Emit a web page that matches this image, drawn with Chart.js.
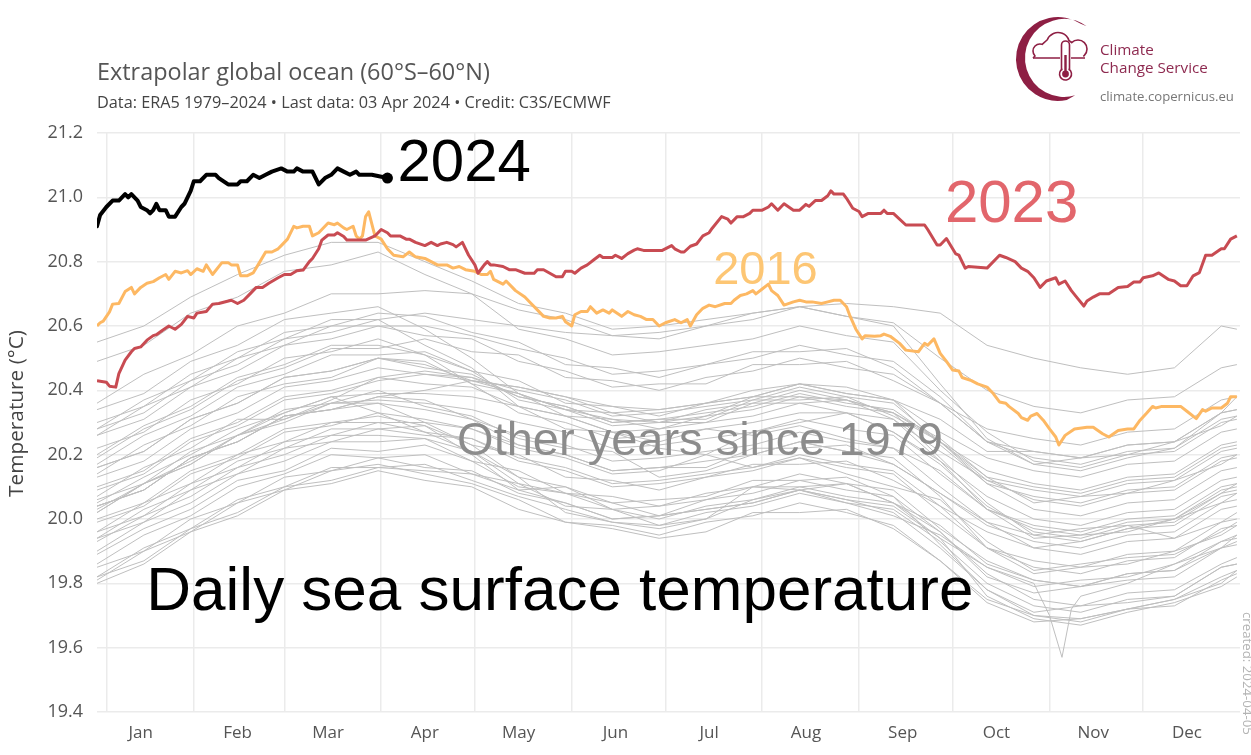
<!DOCTYPE html>
<html><head><meta charset="utf-8">
<script src="https://cdn.jsdelivr.net/npm/chart.js@4.4.1/dist/chart.umd.min.js"></script>
<style>html,body{margin:0;padding:0;background:#fff;overflow:hidden}canvas{display:block}</style>
</head><body>
<canvas id="c" width="1251" height="755" style="width:1251px;height:755px"></canvas>
<script>
// ---------- DATA ----------
const monthLabels = ['Jan','Feb','Mar','Apr','May','Jun','Jul','Aug','Sep','Oct','Nov','Dec'];
const monthMidDays = [15,46,75,106,136,167,197,228,259,289,320,350];
const monthStartDays = [4,32,61,92,122,153,183,214,245,275,306,336];
const yTicks = [19.4,19.6,19.8,20.0,20.2,20.4,20.6,20.8,21.0,21.2];

const days2024 = [1,2,4,6,8,10,11,12,14,15,17,18,19,20,21,23,24,26,28,29,31,32,34,36,39,40,43,46,47,49,51,53,55,57,60,62,64,65,67,70,72,74,76,78,80,82,84,85,89,94];
const temps2024 = [20.91,20.945,20.97,20.99,20.99,21.01,21.00,21.01,20.99,20.97,20.96,20.95,20.96,20.98,20.96,20.96,20.94,20.94,20.97,20.98,21.02,21.05,21.05,21.07,21.07,21.06,21.04,21.04,21.05,21.05,21.07,21.06,21.07,21.08,21.09,21.08,21.08,21.09,21.08,21.08,21.04,21.06,21.07,21.09,21.08,21.07,21.08,21.07,21.07,21.06];

const days2023 = [1,4,5,7,8,10,12,13,15,17,19,20,22,24,26,28,30,32,33,36,38,40,44,46,48,50,52,54,56,59,61,63,65,67,69,70,72,73,75,77,78,80,81,84,87,90,92,94,95,98,100,101,103,106,108,110,111,113,115,116,118,120,122,123,125,126,127,128,131,133,135,138,141,142,144,146,148,150,151,153,154,156,158,160,162,163,166,167,169,171,173,174,176,179,182,185,186,188,189,191,193,195,197,198,201,203,204,206,208,210,211,214,216,217,219,221,224,226,228,229,231,233,235,236,237,240,241,243,245,246,248,252,253,254,256,260,266,267,270,271,273,276,277,279,280,286,290,292,295,297,299,301,303,305,308,309,311,313,315,317,318,320,322,325,328,331,333,335,336,339,341,344,346,348,350,352,354,356,358,361,362,364,366];
const temps2023 = [20.43,20.425,20.413,20.41,20.452,20.494,20.52,20.53,20.535,20.556,20.57,20.573,20.587,20.60,20.59,20.605,20.63,20.625,20.64,20.645,20.668,20.67,20.68,20.67,20.68,20.70,20.72,20.72,20.733,20.75,20.76,20.76,20.772,20.774,20.80,20.81,20.84,20.867,20.883,20.883,20.89,20.878,20.867,20.867,20.867,20.88,20.90,20.89,20.88,20.88,20.87,20.87,20.86,20.85,20.86,20.85,20.855,20.86,20.853,20.846,20.86,20.82,20.79,20.764,20.79,20.80,20.79,20.79,20.785,20.775,20.775,20.764,20.764,20.775,20.775,20.764,20.753,20.753,20.77,20.77,20.764,20.78,20.79,20.805,20.82,20.813,20.813,20.82,20.81,20.825,20.836,20.84,20.835,20.835,20.835,20.85,20.84,20.83,20.83,20.848,20.855,20.88,20.89,20.904,20.94,20.932,20.92,20.94,20.94,20.95,20.96,20.96,20.97,20.98,20.96,20.98,20.96,20.96,20.978,20.972,20.99,20.99,21.005,21.02,21.01,21.01,20.997,20.966,20.956,20.94,20.95,20.95,20.96,20.95,20.95,20.914,20.914,20.90,20.852,20.852,20.872,20.824,20.82,20.78,20.785,20.78,20.82,20.813,20.80,20.78,20.77,20.75,20.72,20.74,20.75,20.73,20.74,20.71,20.686,20.662,20.678,20.69,20.70,20.70,20.72,20.723,20.737,20.737,20.75,20.756,20.765,20.745,20.74,20.725,20.725,20.756,20.766,20.82,20.82,20.84,20.84,20.87,20.88];

const days2016 = [1,2,3,5,6,8,10,12,13,15,17,19,21,23,24,26,28,30,31,33,35,36,38,41,43,44,46,47,49,51,53,55,57,59,60,62,64,65,67,69,70,72,73,75,77,78,80,81,83,84,85,86,87,88,90,92,94,96,99,101,103,106,108,110,113,115,117,119,122,124,126,127,128,131,132,134,135,138,140,142,144,146,148,150,151,153,154,156,158,159,161,163,165,166,169,171,173,175,177,179,181,183,186,188,190,191,193,195,197,199,202,204,205,207,209,211,212,214,216,217,219,221,224,226,228,230,233,235,237,239,241,242,244,246,247,250,252,253,255,258,260,264,266,267,269,271,273,275,277,278,281,283,286,288,290,292,293,296,297,299,300,302,304,306,308,309,311,314,318,320,323,325,328,331,333,335,337,339,340,342,345,348,350,353,355,356,358,361,363,364,366];
const temps2016 = [20.60,20.61,20.615,20.644,20.668,20.67,20.707,20.72,20.70,20.72,20.733,20.738,20.75,20.76,20.745,20.77,20.765,20.772,20.76,20.778,20.77,20.79,20.76,20.797,20.797,20.79,20.79,20.756,20.756,20.765,20.797,20.83,20.83,20.84,20.85,20.87,20.91,20.905,20.91,20.91,20.88,20.89,20.90,20.92,20.915,20.92,20.905,20.90,20.91,20.88,20.87,20.88,20.94,20.955,20.88,20.87,20.84,20.82,20.815,20.83,20.815,20.81,20.80,20.79,20.79,20.78,20.785,20.775,20.77,20.76,20.76,20.77,20.745,20.73,20.74,20.72,20.71,20.69,20.67,20.65,20.63,20.625,20.625,20.63,20.613,20.60,20.635,20.645,20.645,20.66,20.64,20.65,20.64,20.65,20.63,20.645,20.635,20.63,20.62,20.62,20.60,20.61,20.62,20.61,20.62,20.60,20.635,20.655,20.665,20.66,20.67,20.67,20.68,20.695,20.70,20.71,20.70,20.715,20.73,20.71,20.695,20.665,20.675,20.68,20.675,20.675,20.67,20.675,20.68,20.68,20.66,20.634,20.59,20.56,20.57,20.568,20.57,20.575,20.568,20.546,20.525,20.52,20.546,20.54,20.56,20.515,20.49,20.463,20.46,20.44,20.43,20.42,20.41,20.39,20.364,20.36,20.35,20.328,20.315,20.307,20.32,20.328,20.307,20.28,20.255,20.23,20.26,20.28,20.285,20.285,20.265,20.255,20.275,20.28,20.28,20.307,20.328,20.35,20.345,20.35,20.35,20.35,20.335,20.312,20.34,20.335,20.345,20.345,20.36,20.38,20.38];

const greyDays = [1,16,31,46,61,76,91,106,121,136,151,166,181,196,211,226,241,256,271,286,301,316,331,346,361,366];
const greyDays1982 = [1,16,31,46,61,76,91,106,121,136,151,166,181,196,211,226,241,256,271,286,301,306,310,313,316,331,346,361,366];

const y1979 = [19.89,19.97,20.03,20.12,20.15,20.22,20.21,20.23,20.18,20.10,20.08,20.05,20.01,20.06,20.10,20.09,20.11,20.05,19.98,19.86,19.81,19.79,19.83,19.84,19.91,19.93];
const y1980 = [19.93,20.01,20.07,20.16,20.20,20.26,20.26,20.25,20.21,20.13,20.10,20.05,20.06,20.07,20.12,20.12,20.13,20.07,19.96,19.83,19.75,19.73,19.77,19.78,19.86,19.88];
const y1981 = [19.86,19.95,20.01,20.10,20.14,20.20,20.19,20.20,20.14,20.09,20.05,20.00,20.01,20.03,20.05,20.09,20.06,20.02,19.91,19.78,19.71,19.73,19.74,19.76,19.85,19.86];
const y1982 = [19.82,19.91,19.97,20.06,20.10,20.16,20.16,20.17,20.12,20.07,20.03,19.99,19.98,20.02,20.04,20.08,20.05,20.01,19.95,19.85,19.80,19.70,19.57,19.72,19.76,19.80,19.86,19.93,19.95];
const y1983 = [20.04,20.09,20.19,20.24,20.32,20.34,20.36,20.30,20.23,20.13,20.02,19.99,19.97,20.00,20.10,20.10,20.11,20.05,19.94,19.76,19.69,19.67,19.71,19.74,19.79,19.82];
const y1984 = [19.81,19.90,19.96,20.05,20.09,20.15,20.17,20.14,20.11,20.06,19.99,19.98,19.95,19.99,20.01,20.05,20.02,19.98,19.87,19.74,19.68,19.69,19.72,19.75,19.82,19.84];
const y1985 = [19.80,19.86,19.96,20.01,20.09,20.11,20.15,20.12,20.10,20.03,19.99,19.97,19.94,19.96,20.02,20.02,20.03,19.97,19.87,19.75,19.70,19.68,19.72,19.75,19.80,19.84];
const y1986 = [19.85,19.90,20.00,20.05,20.13,20.15,20.19,20.16,20.15,20.08,20.05,20.00,20.01,20.03,20.05,20.09,20.06,20.04,19.94,19.85,19.79,19.81,19.82,19.86,19.91,19.95];
const y1987 = [19.99,20.04,20.14,20.19,20.27,20.29,20.33,20.31,20.28,20.23,20.20,20.15,20.16,20.18,20.20,20.24,20.21,20.17,20.08,19.99,19.95,19.97,19.98,19.94,19.99,20.02];
const y1988 = [20.02,20.11,20.17,20.26,20.33,20.38,20.33,20.27,20.21,20.11,20.08,20.03,20.04,20.06,20.08,20.12,20.09,20.07,19.92,19.78,19.70,19.69,19.72,19.73,19.81,19.83];
const y1989 = [19.82,19.87,19.97,20.02,20.10,20.12,20.16,20.15,20.14,20.11,20.04,20.03,20.00,20.04,20.06,20.10,20.07,20.05,19.96,19.82,19.77,19.79,19.81,19.82,19.91,19.92];
const y1990 = [19.96,20.01,20.11,20.16,20.24,20.26,20.30,20.27,20.25,20.18,20.15,20.10,20.11,20.13,20.15,20.19,20.16,20.14,20.02,19.91,19.85,19.83,19.87,19.88,19.97,19.98];
const y1991 = [19.96,20.05,20.11,20.20,20.24,20.30,20.30,20.30,20.28,20.22,20.19,20.14,20.15,20.20,20.16,20.19,20.14,20.10,20.06,19.93,19.84,19.86,19.88,19.89,19.96,19.99];
const y1992 = [20.00,20.05,20.15,20.20,20.28,20.30,20.32,20.29,20.20,20.09,20.10,20.03,19.98,20.00,20.06,20.09,20.05,20.03,19.93,19.80,19.73,19.71,19.75,19.76,19.85,19.86];
const y1993 = [19.90,19.99,20.05,20.14,20.18,20.24,20.24,20.25,20.18,20.15,20.08,20.07,20.04,20.08,20.10,20.14,20.11,20.09,19.97,19.87,19.81,19.79,19.83,19.84,19.93,19.94];
const y1994 = [19.94,19.99,20.09,20.14,20.22,20.24,20.28,20.26,20.25,20.19,20.16,20.11,20.12,20.14,20.16,20.20,20.17,20.15,20.04,19.96,19.91,19.89,19.93,19.94,20.03,20.04];
const y1995 = [20.06,20.11,20.21,20.26,20.34,20.36,20.40,20.35,20.32,20.25,20.22,20.21,20.13,20.15,20.20,20.24,20.21,20.19,20.07,19.91,19.83,19.85,19.86,19.90,19.95,19.98];
const y1996 = [19.94,20.03,20.09,20.18,20.22,20.28,20.28,20.29,20.23,20.20,20.13,20.12,20.09,20.13,20.17,20.17,20.18,20.12,20.04,19.91,19.87,19.85,19.89,19.90,19.99,20.00];
const y1997 = [20.04,20.09,20.19,20.24,20.32,20.34,20.38,20.40,20.43,20.41,20.38,20.35,20.34,20.36,20.40,20.42,20.41,20.37,20.31,20.21,20.21,20.19,20.23,20.24,20.33,20.34];
const y1998 = [20.34,20.39,20.49,20.54,20.62,20.64,20.66,20.59,20.50,20.39,20.34,20.33,20.30,20.34,20.36,20.40,20.37,20.33,20.19,20.05,19.95,19.93,19.97,19.98,20.07,20.08];
const y1999 = [20.02,20.11,20.17,20.26,20.30,20.36,20.36,20.34,20.31,20.23,20.20,20.15,20.16,20.16,20.22,20.22,20.23,20.17,20.08,19.98,19.93,19.91,19.95,19.96,20.05,20.06];
const y2000 = [20.04,20.09,20.19,20.24,20.32,20.34,20.38,20.37,20.31,20.26,20.23,20.18,20.19,20.21,20.23,20.27,20.24,20.22,20.10,19.99,19.91,19.93,19.97,20.00,20.08,20.11];
const y2001 = [20.10,20.15,20.25,20.30,20.38,20.40,20.44,20.42,20.41,20.35,20.32,20.27,20.28,20.30,20.32,20.36,20.33,20.31,20.18,20.07,20.00,19.98,20.02,20.03,20.12,20.13];
const y2002 = [20.14,20.23,20.29,20.38,20.42,20.44,20.50,20.49,20.42,20.39,20.32,20.31,20.28,20.32,20.34,20.38,20.35,20.33,20.24,20.12,20.09,20.07,20.11,20.12,20.21,20.22];
const y2003 = [20.22,20.27,20.37,20.42,20.50,20.52,20.56,20.51,20.46,20.37,20.34,20.29,20.30,20.30,20.36,20.36,20.37,20.31,20.21,20.12,20.06,20.04,20.08,20.09,20.18,20.19];
const y2004 = [20.16,20.21,20.31,20.36,20.44,20.46,20.50,20.47,20.45,20.38,20.35,20.30,20.31,20.33,20.35,20.39,20.36,20.34,20.24,20.11,20.07,20.05,20.09,20.10,20.19,20.20];
const y2005 = [20.17,20.26,20.32,20.41,20.45,20.51,20.51,20.52,20.46,20.43,20.36,20.35,20.32,20.36,20.38,20.42,20.39,20.37,20.23,20.11,20.03,20.01,20.05,20.06,20.15,20.16];
const y2006 = [20.13,20.18,20.28,20.33,20.41,20.43,20.47,20.45,20.44,20.38,20.35,20.30,20.31,20.31,20.37,20.37,20.38,20.32,20.24,20.15,20.11,20.09,20.13,20.14,20.23,20.24];
const y2007 = [20.20,20.29,20.35,20.44,20.48,20.54,20.54,20.51,20.42,20.33,20.30,20.25,20.26,20.28,20.26,20.29,20.25,20.22,20.15,20.03,19.94,19.95,19.96,20.00,20.05,20.08];
const y2008 = [20.03,20.11,20.18,20.26,20.31,20.36,20.37,20.36,20.34,20.30,20.27,20.22,20.23,20.25,20.27,20.31,20.28,20.26,20.14,20.03,19.97,19.95,19.99,20.00,20.09,20.10];
const y2009 = [20.09,20.14,20.24,20.29,20.37,20.39,20.43,20.45,20.43,20.41,20.38,20.33,20.34,20.36,20.38,20.42,20.39,20.37,20.27,20.19,20.15,20.13,20.17,20.18,20.27,20.28];
const y2010 = [20.28,20.33,20.43,20.48,20.56,20.58,20.62,20.54,20.47,20.35,20.32,20.27,20.22,20.20,20.27,20.30,20.33,20.27,20.17,20.04,19.96,19.94,19.98,19.99,20.08,20.09];
const y2011 = [20.05,20.13,20.20,20.28,20.33,20.38,20.39,20.39,20.38,20.35,20.28,20.27,20.24,20.28,20.30,20.33,20.33,20.27,20.18,20.03,19.98,19.96,20.00,20.01,20.10,20.11];
const y2012 = [20.07,20.16,20.22,20.31,20.31,20.37,20.44,20.46,20.44,20.40,20.37,20.32,20.33,20.35,20.37,20.41,20.38,20.36,20.24,20.13,20.05,20.07,20.08,20.12,20.17,20.20];
const y2013 = [20.16,20.21,20.31,20.36,20.44,20.46,20.50,20.48,20.43,20.39,20.34,20.31,20.30,20.32,20.38,20.38,20.37,20.33,20.25,20.13,20.10,20.08,20.12,20.13,20.22,20.23];
const y2014 = [20.19,20.28,20.34,20.43,20.47,20.53,20.53,20.56,20.52,20.51,20.44,20.43,20.40,20.44,20.46,20.50,20.47,20.45,20.36,20.24,20.21,20.19,20.23,20.24,20.33,20.34];
const y2015 = [20.28,20.37,20.43,20.52,20.56,20.62,20.62,20.64,20.62,20.60,20.58,20.57,20.56,20.60,20.64,20.66,20.67,20.66,20.64,20.54,20.50,20.47,20.45,20.47,20.60,20.59];
const y2017 = [20.49,20.54,20.64,20.69,20.77,20.79,20.83,20.76,20.70,20.59,20.56,20.51,20.52,20.54,20.56,20.60,20.57,20.55,20.40,20.27,20.18,20.16,20.20,20.21,20.30,20.31];
const y2018 = [20.26,20.31,20.41,20.46,20.54,20.56,20.60,20.57,20.56,20.49,20.46,20.41,20.42,20.42,20.48,20.48,20.49,20.43,20.36,20.28,20.25,20.23,20.27,20.28,20.37,20.38];
const y2019 = [20.36,20.45,20.51,20.60,20.64,20.70,20.70,20.71,20.70,20.65,20.62,20.57,20.58,20.60,20.62,20.66,20.63,20.61,20.50,20.40,20.35,20.33,20.37,20.38,20.47,20.48];
const y2020 = [20.55,20.60,20.69,20.76,20.82,20.86,20.86,20.80,20.74,20.67,20.64,20.59,20.60,20.62,20.64,20.66,20.63,20.60,20.42,20.25,20.17,20.19,20.20,20.24,20.29,20.32];
const y2021 = [20.26,20.35,20.41,20.50,20.54,20.60,20.60,20.60,20.57,20.53,20.50,20.45,20.46,20.48,20.50,20.54,20.51,20.49,20.38,20.24,20.19,20.17,20.21,20.22,20.31,20.32];
const y2022 = [20.30,20.35,20.45,20.50,20.58,20.60,20.64,20.63,20.58,20.55,20.48,20.47,20.44,20.48,20.52,20.52,20.53,20.47,20.36,20.24,20.17,20.15,20.19,20.22,20.33,20.38];

const greyYears = [
  ['1979',y1979,greyDays],['1980',y1980,greyDays],['1981',y1981,greyDays],['1982',y1982,greyDays1982],
  ['1983',y1983,greyDays],['1984',y1984,greyDays],['1985',y1985,greyDays],['1986',y1986,greyDays],
  ['1987',y1987,greyDays],['1988',y1988,greyDays],['1989',y1989,greyDays],['1990',y1990,greyDays],
  ['1991',y1991,greyDays],['1992',y1992,greyDays],['1993',y1993,greyDays],['1994',y1994,greyDays],
  ['1995',y1995,greyDays],['1996',y1996,greyDays],['1997',y1997,greyDays],['1998',y1998,greyDays],
  ['1999',y1999,greyDays],['2000',y2000,greyDays],['2001',y2001,greyDays],['2002',y2002,greyDays],
  ['2003',y2003,greyDays],['2004',y2004,greyDays],['2005',y2005,greyDays],['2006',y2006,greyDays],
  ['2007',y2007,greyDays],['2008',y2008,greyDays],['2009',y2009,greyDays],['2010',y2010,greyDays],
  ['2011',y2011,greyDays],['2012',y2012,greyDays],['2013',y2013,greyDays],['2014',y2014,greyDays],
  ['2015',y2015,greyDays],['2017',y2017,greyDays],['2018',y2018,greyDays],['2019',y2019,greyDays],
  ['2020',y2020,greyDays],['2021',y2021,greyDays],['2022',y2022,greyDays]
];

// ---------- STYLE / LAYOUT ----------
const UI = '"Open Sans", "DejaVu Sans", sans-serif';
const BIG = '"Liberation Sans", Arial, sans-serif';
const labelsOnChart = [
  {text:'2024', day:97.2, temp:21.050, size:60, color:'#000000'},
  {text:'2023', day:272.5, temp:20.923, size:60, color:'#e2666c'},
  {text:'2016', day:198.3, temp:20.731, size:47, color:'#fdc674'},
  {text:'Other years since 1979', day:116.3, temp:20.199, size:47, color:'#8c8c8c'},
  {text:'Daily sea surface temperature', day:16.8, temp:19.716, size:62, color:'#000000'}
];

function fitSize(ctx, text, family, targetW, base){
  ctx.font = base + 'px ' + family;
  const w = ctx.measureText(text).width;
  return base * targetW / w;
}

function drawLogo(ctx){
  const col = '#8e1f44';
  ctx.save();
  const cx = 1058, cy = 59, R = 42;
  ctx.beginPath();
  ctx.arc(cx, cy, R, -1.0, 1.36, true);
  ctx.arc(cx + 6, cy - 1, R - 3, 1.28, -0.95, false);
  ctx.closePath();
  ctx.fillStyle = col; ctx.fill();
  // cloud
  ctx.strokeStyle = col; ctx.lineWidth = 1.6; ctx.lineJoin = 'round';
  ctx.beginPath();
  ctx.moveTo(1033, 58);
  ctx.arc(1040, 51, 7, Math.PI*0.75, Math.PI*1.6, false);
  ctx.arc(1058, 44, 11.5, Math.PI*1.12, Math.PI*1.9, false);
  ctx.arc(1078, 49, 9, Math.PI*1.25, Math.PI*0.3, false);
  ctx.stroke();
  ctx.beginPath(); ctx.moveTo(1033, 58); ctx.lineTo(1060, 58); ctx.moveTo(1071, 58); ctx.lineTo(1085, 58); ctx.stroke();
  // thermometer
  ctx.fillStyle = '#fff';
  ctx.beginPath();
  ctx.moveTo(1061.5, 70); ctx.lineTo(1061.5, 45); ctx.arc(1065.5, 45, 4, Math.PI, 0, false); ctx.lineTo(1069.5, 70);
  ctx.arc(1065.5, 74, 6, -Math.PI*0.3, Math.PI*1.3, false);
  ctx.closePath(); ctx.fill(); ctx.stroke();
  ctx.fillStyle = col;
  ctx.fillRect(1064.3, 55, 2.4, 17);
  ctx.beginPath(); ctx.arc(1065.5, 74, 3.4, 0, Math.PI*2); ctx.fill();
  // texts
  const s1 = fitSize(ctx, 'Change Service', UI, 108, 15);
  ctx.font = s1 + 'px ' + UI; ctx.fillStyle = '#8e2a50'; ctx.textBaseline = 'alphabetic'; ctx.textAlign = 'left';
  ctx.fillText('Climate', 1100, 55);
  ctx.fillText('Change Service', 1100, 73);
  const s2 = fitSize(ctx, 'climate.copernicus.eu', UI, 134, 13);
  ctx.font = s2 + 'px ' + UI; ctx.fillStyle = '#777777';
  ctx.fillText('climate.copernicus.eu', 1100, 101);
  ctx.restore();
}

const bgPlugin = {
  id: 'bg',
  beforeDraw(chart){ const c = chart.ctx; c.save(); c.fillStyle = '#fff'; c.fillRect(0, 0, chart.width, chart.height); c.restore(); }
};

const overlayPlugin = {
  id: 'overlay',
  afterDatasetsDraw(chart){
    const ctx = chart.ctx, xs = chart.scales.x, ys = chart.scales.y;
    ctx.save();
    ctx.textAlign = 'left'; ctx.textBaseline = 'alphabetic';
    labelsOnChart.forEach(l => {
      ctx.font = l.size + 'px ' + BIG;
      ctx.fillStyle = l.color;
      ctx.fillText(l.text, xs.getPixelForValue(l.day), ys.getPixelForValue(l.temp));
    });
    ctx.restore();
  },
  afterDraw(chart){
    const ctx = chart.ctx;
    ctx.save();
    ctx.textAlign = 'left'; ctx.textBaseline = 'alphabetic';
    const title = 'Extrapolar global ocean (60°S–60°N)';
    const ts = fitSize(ctx, title, UI, 393, 20);
    ctx.font = ts + 'px ' + UI; ctx.fillStyle = '#555555';
    ctx.fillText(title, 97, 80);
    const sub = 'Data: ERA5 1979–2024 • Last data: 03 Apr 2024 • Credit: C3S/ECMWF';
    const ss = fitSize(ctx, sub, UI, 514, 14);
    ctx.font = ss + 'px ' + UI; ctx.fillStyle = '#444444';
    ctx.fillText(sub, 97, 108);
    const yt = 'Temperature (°C)';
    const ys2 = fitSize(ctx, yt, UI, 167, 16);
    ctx.save();
    ctx.translate(23, 413.5); ctx.rotate(-Math.PI / 2);
    ctx.font = ys2 + 'px ' + UI; ctx.fillStyle = '#444444'; ctx.textAlign = 'center';
    ctx.fillText(yt, 0, 0);
    ctx.restore();
    ctx.save();
    ctx.translate(1243, 612); ctx.rotate(Math.PI / 2);
    const cs = fitSize(ctx, 'created: 2024-04-05', UI, 123, 11);
    ctx.font = cs + 'px ' + UI; ctx.fillStyle = '#b4b4b4'; ctx.textAlign = 'left';
    ctx.fillText('created: 2024-04-05', 0, 0);
    ctx.restore();
    drawLogo(ctx);
    ctx.restore();
  }
};

// ---------- CHART ----------
const toPts = (days, vals) => days.map((d, i) => ({x: d, y: vals[i]}));
const datasets = [];
datasets.push({
  label: '2024', data: toPts(days2024, temps2024), borderColor: '#000000', borderWidth: 4, order: 0,
  pointRadius: c => (c.dataIndex === days2024.length - 1 ? 5.5 : 0), pointBackgroundColor: '#000000', pointBorderWidth: 0,
  borderJoinStyle: 'round', borderCapStyle: 'round'
});
datasets.push({label: '2023', data: toPts(days2023, temps2023), borderColor: '#c84b52', borderWidth: 3, order: 1, pointRadius: 0, borderJoinStyle: 'round'});
datasets.push({label: '2016', data: toPts(days2016, temps2016), borderColor: '#fdb863', borderWidth: 3, order: 2, pointRadius: 0, borderJoinStyle: 'round'});
greyYears.forEach(g => datasets.push({label: g[0], data: toPts(g[2], g[1]), borderColor: '#bfbfbf', borderWidth: 1, order: 3, pointRadius: 0}));

const allXTicks = monthStartDays.concat(monthMidDays).sort((a, b) => a - b);

new Chart(document.getElementById('c'), {
  type: 'line',
  data: { datasets },
  options: {
    responsive: false, animation: false, devicePixelRatio: 1,
    events: [],
    layout: { padding: { left: 0, top: 133, right: 11, bottom: 0 } },
    plugins: { legend: { display: false }, tooltip: { enabled: false }, title: { display: false } },
    elements: { line: { tension: 0 }, point: { radius: 0 } },
    scales: {
      x: {
        type: 'linear', min: 1, max: 367,
        afterBuildTicks: s => { s.ticks = allXTicks.map(v => ({ value: v })); },
        afterFit: s => { s.height = 43; },
        grid: { color: c => (c.tick && monthStartDays.includes(c.tick.value)) ? '#ebebeb' : 'rgba(0,0,0,0)', lineWidth: 1.5, drawTicks: false },
        border: { display: false },
        ticks: {
          autoSkip: false, maxRotation: 0, minRotation: 0, padding: 11, color: '#555555',
          font: { family: UI, size: 17 },
          callback: v => { const i = monthMidDays.indexOf(v); return i >= 0 ? monthLabels[i] : ''; }
        }
      },
      y: {
        min: 19.4, max: 21.2,
        afterBuildTicks: s => { s.ticks = yTicks.map(v => ({ value: v })); },
        afterFit: s => { s.width = 97; },
        grid: { color: '#ebebeb', lineWidth: 1.5, drawTicks: false },
        border: { display: false },
        ticks: { padding: 14, color: '#555555', font: { family: UI, size: 18 }, callback: v => Number(v).toFixed(1) }
      }
    }
  },
  plugins: [bgPlugin, overlayPlugin]
});
</script>
</body></html>
